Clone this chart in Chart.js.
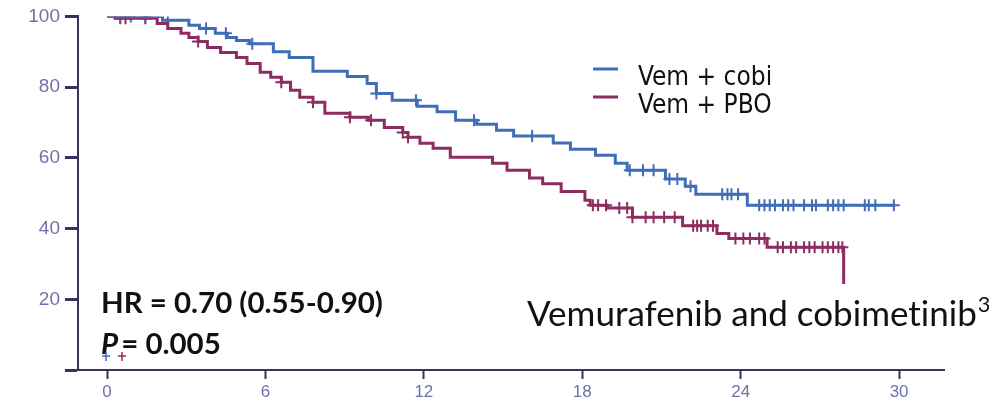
<!DOCTYPE html>
<html>
<head>
<meta charset="utf-8">
<script src="https://cdn.jsdelivr.net/npm/chart.js@4.4.1/dist/chart.umd.min.js"></script>
<style>
  html, body { margin: 0; padding: 0; background: #fff; }
  #wrap { width: 989px; height: 400px; }
</style>
</head>
<body>
<div id="wrap"><canvas id="km"></canvas></div>
<script>
// months
const xTicks = [0, 6, 12, 18, 24, 30];
const yTicks = [0, 20, 40, 60, 80, 100];

// Vem + cobi : step times and survival (%) after each step
const cobiTime = [0, 2.1, 3.1, 3.5, 4.1, 4.55, 4.9, 5.4, 6.3, 6.9, 7.8, 9.1, 9.85, 10.2, 10.8, 11.75, 12.5, 13.2, 14.0, 14.75, 15.4, 16.9, 17.55, 18.5, 19.25, 19.7, 21.15, 21.9, 22.3, 24.25, 29.85];
const cobiSurv = [100, 98.9, 97.5, 96.6, 95.2, 94.0, 93.2, 92.3, 90.0, 88.4, 84.5, 83.0, 81.0, 78.2, 76.3, 74.6, 73.0, 70.6, 69.5, 67.8, 66.2, 64.2, 62.4, 60.7, 58.5, 56.5, 54.0, 52.0, 49.7, 46.6, 46.6];
const cobiCensor = [0.5, 0.9, 1.45, 2.3, 3.75, 4.5, 5.5, 10.2, 11.7, 13.9, 16.1, 19.8, 20.3, 20.7, 21.3, 21.6, 22.1, 23.3, 23.5, 23.65, 23.9, 24.7, 24.9, 25.1, 25.3, 25.6, 25.8, 26.0, 26.4, 26.7, 26.85, 27.3, 27.5, 27.7, 27.9, 28.7, 28.85, 29.1, 29.8];

// Vem + PBO
const pboTime = [0, 0.3, 1.9, 2.3, 2.8, 3.1, 3.45, 3.8, 4.3, 4.9, 5.3, 5.8, 6.2, 6.6, 6.95, 7.3, 7.8, 8.25, 9.2, 9.9, 10.5, 11.2, 11.4, 11.85, 12.35, 13.0, 14.6, 15.15, 16.0, 16.5, 17.2, 18.1, 18.3, 18.95, 19.9, 21.8, 23.1, 23.55, 25.0, 27.9];
const pboSurv = [100, 99.5, 98.0, 96.6, 95.2, 94.0, 92.9, 91.2, 89.8, 88.4, 86.7, 84.2, 82.8, 81.4, 79.1, 77.1, 75.7, 72.6, 71.5, 70.6, 68.6, 67.2, 65.8, 64.1, 62.7, 60.2, 58.5, 56.5, 54.3, 52.7, 50.5, 48.0, 46.6, 45.8, 43.2, 40.8, 38.6, 37.2, 34.7, 24.3];
const pboCensor = [0.5, 0.7, 1.45, 3.45, 6.6, 7.8, 9.2, 10.0, 11.2, 11.4, 18.4, 18.6, 18.9, 19.4, 19.7, 19.9, 20.4, 20.7, 21.1, 21.5, 22.2, 22.35, 22.5, 22.75, 22.95, 23.8, 24.1, 24.35, 24.7, 24.9, 25.4, 25.6, 25.9, 26.1, 26.4, 26.6, 26.8, 27.1, 27.3, 27.5, 27.7, 27.85];

const seriesNames = ["Vem + cobi", "Vem + PBO"];
const blue = "#3f6db6";
const red = "#8c2c60";
const navy = "#34345e";
const tickGrey = "#6e72a8";

function steps(t, s) {
  return t.map((v, i) => ({ x: v, y: s[i] }));
}

// level of the curve at a censor time
function levelAt(t, s, when) {
  let lv = s[0];
  for (let i = 0; i < t.length; i++) {
    if (t[i] <= when) lv = s[i];
  }
  return lv;
}

function censors(t, s, c) {
  return c.map(v => ({ x: v, y: levelAt(t, s, v) }));
}

// scale a font so the text spans a given width
function fitFont(ctx, text, style, family, width) {
  ctx.font = style + " 20px " + family;
  const w = ctx.measureText(text).width;
  return 20 * width / w;
}

const overlay = {
  id: "overlay",
  afterDraw(chart) {
    const ctx = chart.ctx;
    ctx.save();

    // legend
    const ds = chart.data.datasets;
    ctx.font = '26px "DejaVu Sans Condensed", "DejaVu Sans", sans-serif';
    ctx.textBaseline = "alphabetic";
    [0, 1].forEach(i => {
      const y = 69 + i * 28;
      ctx.strokeStyle = ds[i].borderColor;
      ctx.lineWidth = 3;
      ctx.beginPath();
      ctx.moveTo(593, y);
      ctx.lineTo(618, y);
      ctx.stroke();
      ctx.fillStyle = "#111";
      ctx.fillText(ds[i].label, 638, y + 16);
    });

    // hazard ratio text
    const fam = 'Lato, "Open Sans", sans-serif';
    const hr = "HR = 0.70 (0.55-0.90)";
    let sz = fitFont(ctx, hr, "bold", fam, 282);
    ctx.fillStyle = "#111";
    ctx.font = "bold " + sz + "px " + fam;
    ctx.fillText(hr, 101, 313);

    ctx.font = "italic bold " + sz + "px " + fam;
    ctx.fillText("P", 101, 354);
    const pw = ctx.measureText("P").width;
    ctx.font = "bold " + sz + "px " + fam;
    ctx.fillText(" = 0.005", 101 + pw - 4, 354);

    // small censor marks under the P
    [[106, blue], [122, red]].forEach(([x, col]) => {
      ctx.strokeStyle = col;
      ctx.lineWidth = 1.5;
      ctx.beginPath();
      ctx.moveTo(x - 4, 356); ctx.lineTo(x + 4, 356);
      ctx.moveTo(x, 352); ctx.lineTo(x, 361);
      ctx.stroke();
    });

    // drug caption, no ligatures so "ti" stays apart
    const cap = "Vemurafenib and cobimetinib";
    ctx.textRendering = "optimizeSpeed";
    sz = fitFont(ctx, cap, "normal", fam, 450);
    ctx.font = sz + "px " + fam;
    ctx.fillText(cap, 527, 326);
    const cw = ctx.measureText(cap).width;
    ctx.font = (sz * 0.62) + "px " + fam;
    ctx.fillText("3", 527 + cw + 1, 312);

    ctx.restore();
  }
};

new Chart(document.getElementById("km"), {
  type: "line",
  data: {
    datasets: [
      {
        label: seriesNames[0],
        data: steps(cobiTime, cobiSurv),
        borderColor: blue,
        borderWidth: 3,
        stepped: true,
        pointRadius: 0,
        fill: false
      },
      {
        label: seriesNames[1],
        data: steps(pboTime, pboSurv),
        borderColor: red,
        borderWidth: 3,
        stepped: true,
        pointRadius: 0,
        fill: false
      },
      {
        label: "cobi censored",
        data: censors(cobiTime, cobiSurv, cobiCensor),
        showLine: false,
        pointStyle: "cross",
        pointRadius: 6,
        pointBorderWidth: 2,
        pointBorderColor: blue,
        borderColor: blue
      },
      {
        label: "pbo censored",
        data: censors(pboTime, pboSurv, pboCensor),
        showLine: false,
        pointStyle: "cross",
        pointRadius: 6,
        pointBorderWidth: 2,
        pointBorderColor: red,
        borderColor: red
      }
    ]
  },
  options: {
    responsive: true,
    maintainAspectRatio: false,
    animation: false,
    layout: { padding: { top: 16, right: 45, left: 0, bottom: 0 } },
    plugins: {
      legend: { display: false },
      tooltip: { enabled: false }
    },
    elements: { line: { tension: 0 } },
    scales: {
      x: {
        type: "linear",
        min: -1.1,
        max: 31.7,
        afterBuildTicks: s => { s.ticks = xTicks.map(v => ({ value: v })); },
        afterFit: s => { s.height = 30; },
        grid: { drawOnChartArea: false, tickLength: 9, tickWidth: 2, color: navy },
        border: { display: true, color: navy, width: 2 },
        ticks: {
          color: tickGrey,
          padding: 3,
          maxRotation: 0,
          font: { family: '"Liberation Sans", Arial, sans-serif', size: 17 }
        }
      },
      y: {
        min: 0,
        max: 100,
        afterBuildTicks: s => { s.ticks = yTicks.map(v => ({ value: v })); },
        afterFit: s => { s.width = 78; },
        grid: { drawOnChartArea: false, tickLength: 13, tickWidth: 3, color: navy },
        border: { display: true, color: navy, width: 2 },
        ticks: {
          color: tickGrey,
          padding: 5,
          font: { family: '"Liberation Sans", Arial, sans-serif', size: 19 },
          callback: v => (v === 0 ? "" : v)
        }
      }
    }
  },
  plugins: [overlay]
});
</script>
</body>
</html>
